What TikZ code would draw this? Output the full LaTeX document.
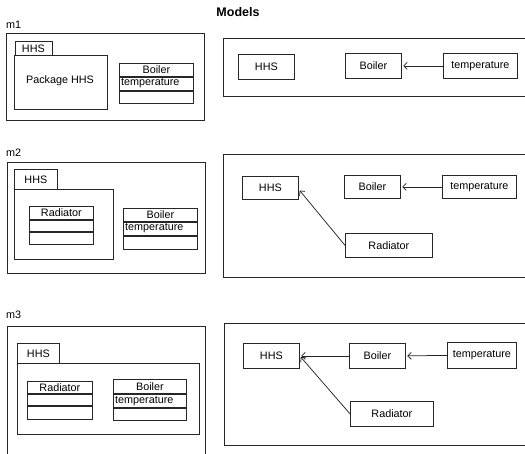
\documentclass[tikz,border=0pt]{standalone}
\usepackage{fontspec}
\setmainfont{Liberation Sans}
\usetikzlibrary{arrows.meta}
\tikzset{
  ln/.style={draw=black!85, line width=0.75pt},
  box/.style={ln, rectangle, inner sep=0pt, font=\fontsize{10.8}{12}\selectfont},
  txt/.style={inner sep=0pt, font=\fontsize{10.8}{12}\selectfont},
  cmp/.style={box, anchor=north west},
  attrtxt/.style={txt, anchor=west, xshift=2pt},
  dep/.style={ln, -{Straight Barb[length=3.5pt,width=7pt]}, shorten >=1.5pt},
}
\begin{document}
\begin{tikzpicture}[x=1pt,y=-1pt]
\useasboundingbox (0,0) rectangle (525,453);
\clip (0,0) rectangle (525,453);
\node[txt, font=\fontsize{12.5}{14}\selectfont\bfseries] (title) at (238,12) {Models};

% ---------- m1 ----------
\node[txt, anchor=west] (m1) at (6,24.5) {m1};
\node[cmp, minimum width=198pt, minimum height=87pt] (f1) at (6,33) {};
\node[cmp, minimum width=37pt, minimum height=14pt] (tab1) at (14.5,41) {};
\node[txt] (tab1t) at (tab1.center) {HHS};
\node[cmp, minimum width=93pt, minimum height=54pt] (pk1) at (14,55) {};
\node[txt] (pk1t) at (60,81) {Package HHS};
\node[cmp, minimum width=74pt, minimum height=13pt] (c1n) at (119,63) {Boiler};
\node[cmp, minimum width=74pt, minimum height=13pt] (c1a) at (c1n.south west) {};
\node[attrtxt] (c1t) at (c1a.west) {temperature};
\node[cmp, minimum width=74pt, minimum height=12pt] (c1o) at (c1a.south west) {};

\node[cmp, minimum width=310pt, minimum height=58pt] (g1) at (223,38) {};
\node[cmp, minimum width=56pt, minimum height=25pt] (h1) at (238,54) {HHS};
\node[cmp, minimum width=56pt, minimum height=25pt] (b1) at (345,53) {Boiler};
\node[cmp, minimum width=74pt, minimum height=25pt] (t1) at (443,53) {temperature};
\draw[dep] (t1) -- (b1);

% ---------- m2 ----------
\node[txt, anchor=west] (m2) at (6,153) {m2};
\node[cmp, minimum width=198pt, minimum height=111pt] (f2) at (7,162) {};
\node[cmp, minimum width=43pt, minimum height=20pt] (tab2) at (14,169) {};
\node[txt] (tab2t) at (tab2.center) {HHS};
\node[cmp, minimum width=99pt, minimum height=70pt] (pk2) at (14,189) {};
\node[cmp, minimum width=64pt, minimum height=13pt] (r2n) at (29,206) {Radiator};
\node[cmp, minimum width=64pt, minimum height=11pt] (r2a) at (r2n.south west) {};
\node[cmp, minimum width=64pt, minimum height=12pt] (r2o) at (r2a.south west) {};
\node[cmp, minimum width=74pt, minimum height=13pt] (c2n) at (123,208) {Boiler};
\node[cmp, minimum width=74pt, minimum height=13pt] (c2a) at (c2n.south west) {};
\node[attrtxt] (c2t) at (c2a.west) {temperature};
\node[cmp, minimum width=74pt, minimum height=13pt] (c2o) at (c2a.south west) {};

\node[cmp, minimum width=310pt, minimum height=123pt] (g2) at (223,154) {};
\node[cmp, minimum width=56pt, minimum height=23pt] (h2) at (242,175.5) {HHS};
\node[cmp, minimum width=56pt, minimum height=23pt] (b2) at (344,175) {Boiler};
\node[cmp, minimum width=74pt, minimum height=23pt] (t2) at (442,175) {temperature};
\node[cmp, minimum width=87pt, minimum height=24pt] (rd2) at (345,233) {Radiator};
\draw[dep] (t2) -- (b2);
\draw[dep] (rd2.west) -- ([yshift=-2pt]h2.east);

% ---------- m3 ----------
\node[txt, anchor=west] (m3) at (6,315) {m3};
\node[cmp, minimum width=198pt, minimum height=140pt] (f3) at (7,326) {};
\node[cmp, minimum width=42pt, minimum height=20pt] (tab3) at (17,343) {};
\node[txt] (tab3t) at (tab3.center) {HHS};
\node[cmp, minimum width=182pt, minimum height=71pt] (pk3) at (17,363) {};
\node[cmp, minimum width=65pt, minimum height=12pt] (r3n) at (27,381) {Radiator};
\node[cmp, minimum width=65pt, minimum height=11pt] (r3a) at (r3n.south west) {};
\node[cmp, minimum width=65pt, minimum height=13pt] (r3o) at (r3a.south west) {};
\node[cmp, minimum width=73pt, minimum height=14pt] (c3n) at (113,379) {Boiler};
\node[cmp, minimum width=73pt, minimum height=13pt] (c3a) at (c3n.south west) {};
\node[attrtxt] (c3t) at (c3a.west) {temperature};
\node[cmp, minimum width=73pt, minimum height=12pt] (c3o) at (c3a.south west) {};

\node[cmp, minimum width=310pt, minimum height=122pt] (g3) at (224,323) {};
\node[cmp, minimum width=56pt, minimum height=25pt] (h3) at (243,343) {HHS};
\node[cmp, minimum width=56pt, minimum height=25pt] (b3) at (349,343) {Boiler};
\node[cmp, minimum width=69pt, minimum height=26pt] (t3) at (447,342) {temperature};
\node[cmp, minimum width=83pt, minimum height=25pt] (rd3) at (350,401) {Radiator};
\draw[dep] (t3.west) -- (b3.east);
\draw[dep] (b3.west) -- (h3.east);
\draw[dep] (rd3.west) -- (h3.east);
\end{tikzpicture}
\end{document}
